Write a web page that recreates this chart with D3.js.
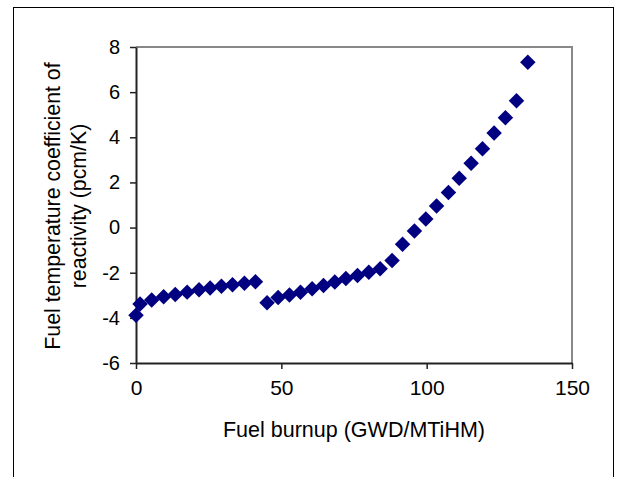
<!DOCTYPE html>
<html>
<head>
<meta charset="utf-8">
<script src="https://cdn.jsdelivr.net/npm/d3@7"></script>
<style>
    body { margin: 0; background: #fff; }
    text { font-family: "Liberation Sans", Arial, sans-serif; fill: #000; }
</style>
</head>
<body>
<svg id="chart" width="618" height="477"></svg>
<script>
// burnup (GWD/MTiHM) and fuel temperature coefficient (pcm/K)
const burnup = [0, 1.4, 5.4, 9.5, 13.5, 17.6, 21.7, 25.5, 29.4, 33.2, 37.3, 41.1,
    45.1, 48.9, 52.8, 56.6, 60.6, 64.5, 68.4, 72.2, 76.2, 80.1, 84.0, 88.1,
    91.7, 95.8, 99.7, 103.4, 107.5, 111.2, 115.3, 119.2, 123.2, 127.1, 130.9, 134.8];
const coeff = [-3.88, -3.39, -3.21, -3.06, -2.96, -2.86, -2.75, -2.68, -2.60, -2.53, -2.47, -2.40,
    -3.33, -3.10, -2.99, -2.87, -2.71, -2.57, -2.41, -2.26, -2.12, -1.98, -1.82, -1.46,
    -0.74, -0.15, 0.38, 0.96, 1.55, 2.19, 2.85, 3.49, 4.19, 4.87, 5.62, 7.32];
const xTicks = [0, 50, 100, 150];
const yTicks = [-6, -4, -2, 0, 2, 4, 6, 8];

const svg = d3.select("#chart");

// outer chart frame
svg.append("rect")
    .attr("x", 13.5).attr("y", 7.5)
    .attr("width", 600).attr("height", 480)
    .attr("fill", "none").attr("stroke", "#000").attr("stroke-width", 1);

const x = d3.scaleLinear().domain([0, 150]).range([136, 572]);
const y = d3.scaleLinear().domain([-6, 8]).range([363, 47]);

// plot area border (top and right are gray)
svg.append("path")
    .attr("d", `M${x(0)},${y(8)}H${x(150)}V${y(-6)}`)
    .attr("fill", "none").attr("stroke", "#888").attr("stroke-width", 2);

// plain hyphen for negatives, like the original
const fmt = d => String(d);

// x axis
const xAxis = svg.append("g")
    .attr("transform", `translate(0,${y(-6)})`)
    .call(d3.axisBottom(x).tickValues(xTicks).tickFormat(fmt).tickSize(6).tickPadding(11).tickSizeOuter(0));
xAxis.select(".domain").attr("stroke", "#222").attr("stroke-width", 2);
xAxis.selectAll(".tick line").attr("stroke", "#222").attr("stroke-width", 1.5);
xAxis.selectAll(".tick text").style("font-size", "21px").attr("fill", "#000");

// y axis
const yAxis = svg.append("g")
    .attr("transform", `translate(${x(0)},0)`)
    .call(d3.axisLeft(y).tickValues(yTicks).tickFormat(fmt).tickSize(6).tickPadding(10).tickSizeOuter(0));
yAxis.select(".domain").attr("stroke", "#222").attr("stroke-width", 2);
yAxis.selectAll(".tick line").attr("stroke", "#222").attr("stroke-width", 1.5);
yAxis.selectAll(".tick text").style("font-size", "20px").attr("fill", "#000");

// points (diamonds)
const pts = burnup.map((b, i) => ({ b: b, c: coeff[i] }));
const diamond = d3.symbol().type(d3.symbolSquare).size(120);
svg.append("g").selectAll("path")
    .data(pts)
    .enter().append("path")
    .attr("d", diamond)
    .attr("transform", d => `translate(${x(d.b)},${y(d.c)}) rotate(45)`)
    .attr("fill", "#000080");

// axis titles
svg.append("text")
    .attr("x", 354).attr("y", 437)
    .attr("text-anchor", "middle")
    .style("font-size", "21.5px")
    .text("Fuel burnup (GWD/MTiHM)");

const yTitle = svg.append("text")
    .attr("transform", "translate(60,206) rotate(-90)")
    .attr("text-anchor", "middle")
    .style("font-size", "21.3px");
yTitle.append("tspan").attr("x", 0).attr("y", 0).text("Fuel temperature coefficient of");
yTitle.append("tspan").attr("x", 0).attr("y", 26).text("reactivity (pcm/K)");
</script>
</body>
</html>
